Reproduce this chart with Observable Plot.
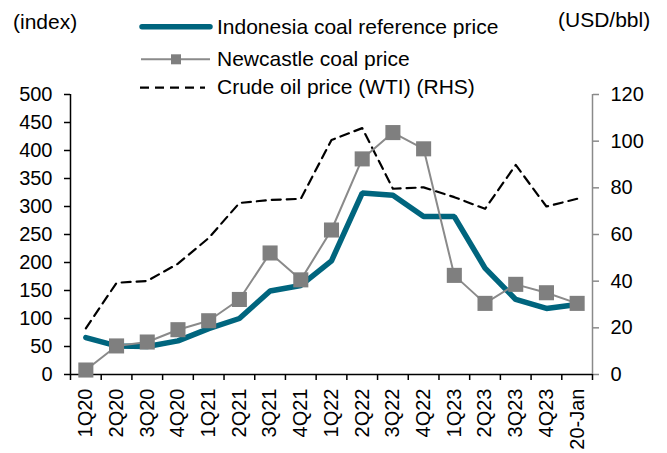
<!DOCTYPE html>
<html><head><meta charset="utf-8">
<script src="https://cdn.jsdelivr.net/npm/d3@7"></script>
<script src="https://cdn.jsdelivr.net/npm/@observablehq/plot@0.6"></script>
<style>
body{margin:0;background:#fff;}
#wrap{position:relative;width:667px;height:453px;font-family:"Liberation Sans",Arial,sans-serif;}
</style></head><body>
<div id="wrap"></div>
<script>
const categories = ["1Q20","2Q20","3Q20","4Q20","1Q21","2Q21","3Q21","4Q21","1Q22","2Q22","3Q22","4Q22","1Q23","2Q23","3Q23","4Q23","20-Jan"];
const indonesia = [66, 51, 50, 60, 82, 100, 149, 159, 203, 324, 320, 282, 282, 190, 134, 118, 125];
const newcastle = [8, 51, 58, 80, 96, 134, 217, 169, 258, 385, 432, 403, 177, 127, 161, 146, 127];
const wti = [19.8, 39.3, 40.1, 47.5, 58.5, 73.5, 74.8, 75.3, 100.5, 105.6, 79.6, 80.2, 76, 71, 89.8, 72, 75.3];
const leftTicks = [0,50,100,150,200,250,300,350,400,450,500];
const rightTicks = [0,20,40,60,80,100,120];
const seriesNames = ["Indonesia coal reference price","Newcastle coal price","Crude oil price (WTI) (RHS)"];
const leftTitle = "(index)";
const rightTitle = "(USD/bbl)";

const TEAL = "#00657e", GRAY = "#8a8a8a", SQ = "#7f7f7f";
const k = 500/120;
const idx = categories.map((c,i)=>i);
const rows = idx.map(i=>({i, cat:categories[i], ind:indonesia[i], nc:newcastle[i], oil:wti[i]*k}));

const chart = Plot.plot({
  width: 667, height: 453,
  marginLeft: 70, marginRight: 75, marginTop: 94, marginBottom: 79,
  style: {fontFamily: "'Liberation Sans', Arial, sans-serif", fontSize: "20px", color: "#000", background: "#fff"},
  x: {type: "linear", domain: [-0.5, categories.length - 0.5]},
  y: {domain: [0, 500]},
  marks: [
    Plot.axisY(leftTicks, {anchor: "left", tickSize: 6, tickPadding: 12, label: null, stroke: "#000", strokeWidth: 1.5}),
    Plot.axisY(rightTicks.map(v=>v*k), {anchor: "right", tickSize: 6, tickPadding: 12, label: null, stroke: GRAY, strokeWidth: 1.5, tickFormat: d=>String(Math.round(d/k))}),
    Plot.axisX(d3.range(-0.5, categories.length, 1), {anchor: "bottom", tickSize: 6, tickFormat: ()=>"", label: null, strokeWidth: 1.5}),
    Plot.axisX(idx, {anchor: "bottom", tickSize: 0, tickPadding: 14, tickRotate: -90, tickFormat: i=>categories[i], label: null}),
    Plot.ruleX([-0.5], {stroke: "#000", strokeWidth: 1.5}),
    Plot.ruleX([categories.length - 0.5], {stroke: GRAY, strokeWidth: 1.5}),
    Plot.ruleY([0], {stroke: "#000", strokeWidth: 1.5}),
    Plot.line(rows, {x: "i", y: "oil", stroke: "#000", strokeWidth: 2.2, strokeDasharray: "9,6"}),
    Plot.line(rows, {x: "i", y: "ind", stroke: TEAL, strokeWidth: 5.5, strokeLinejoin: "miter"}),
    Plot.line(rows, {x: "i", y: "nc", stroke: GRAY, strokeWidth: 2}),
    Plot.dot(rows, {x: "i", y: "nc", symbol: "square", r: 8.5, fill: SQ, stroke: "none"})
  ]
});
document.getElementById("wrap").appendChild(chart);

// legend and axis titles
const svg = d3.select(chart);
const g = svg.append("g").attr("font-family", "'Liberation Sans', Arial, sans-serif").attr("font-size", 21).attr("fill", "#000").attr("text-anchor", "start");
g.append("text").attr("x", 13).attr("y", 28.5).text(leftTitle);
g.append("text").attr("x", 558).attr("y", 27).text(rightTitle);
const ly = [26.7, 59.3, 87.7];
const by = [33.8, 65.5, 94.3];
const tx = 217;
g.append("line").attr("x1", 142).attr("x2", 210).attr("y1", ly[0]).attr("y2", ly[0]).attr("stroke", TEAL).attr("stroke-width", 5.5).attr("stroke-linecap", "round");
g.append("line").attr("x1", 141).attr("x2", 210).attr("y1", ly[1]).attr("y2", ly[1]).attr("stroke", GRAY).attr("stroke-width", 2);
g.append("rect").attr("x", 171).attr("y", ly[1]-5).attr("width", 10).attr("height", 10).attr("fill", SQ);
g.append("line").attr("x1", 140).attr("x2", 205).attr("y1", ly[2]).attr("y2", ly[2]).attr("stroke", "#000").attr("stroke-width", 2.2).attr("stroke-dasharray", "9,6");
seriesNames.forEach((s,j)=>{
  g.append("text").attr("x", tx).attr("y", by[j]).text(s);
});
</script>
</body></html>
